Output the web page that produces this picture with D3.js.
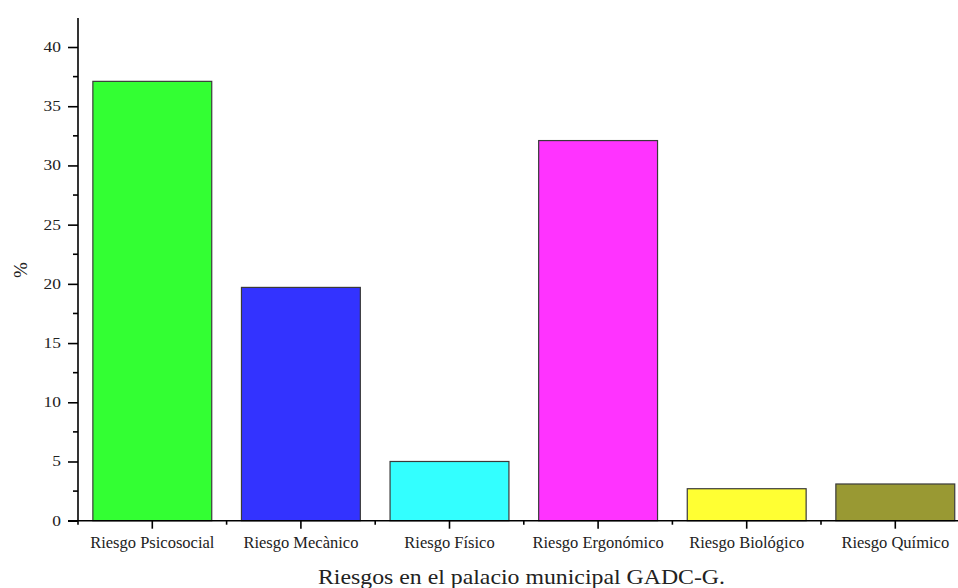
<!DOCTYPE html>
<html>
<head>
<meta charset="utf-8">
<script src="https://cdn.jsdelivr.net/npm/d3@7"></script>
<style>
  body { margin: 0; background: #fff; }
  svg { display: block; font-family: "Liberation Serif", "Times New Roman", serif; }
</style>
</head>
<body>
<div id="chart"></div>
<script>
// Data.
const categories = ["Riesgo Psicosocial", "Riesgo Mecànico", "Riesgo Físico", "Riesgo Ergonómico", "Riesgo Biológico", "Riesgo Químico"];
const values = [37.1, 19.7, 5.0, 32.1, 2.7, 3.1];
const colors = ["#33ff33", "#3333ff", "#33ffff", "#ff33ff", "#ffff33", "#999933"];
const yTicks = [0, 5, 10, 15, 20, 25, 30, 35, 40];

const width = 958;
const height = 588;
const serif = "Liberation Serif, Times New Roman, serif";

// Plot area (the frame runs off the right edge, like in the original).
const plotLeft = 78, plotTop = 18, plotBottom = 520.7;
const band = 148.6;

const x = d3.scaleBand()
    .domain(categories)
    .range([plotLeft, plotLeft + band * categories.length])
    .paddingInner(0.2)
    .paddingOuter(0.1);

const y = d3.scaleLinear()
    .domain([0, 42.45])
    .range([plotBottom, plotTop]);

const svg = d3.select("#chart")
  .append("svg")
    .attr("width", width)
    .attr("height", height);

// Bars.
svg.append("g")
  .selectAll("rect")
  .data(values)
  .join("rect")
    .attr("x", (d, i) => x(categories[i]))
    .attr("y", d => y(d))
    .attr("width", x.bandwidth())
    .attr("height", d => y(0) - y(d))
    .attr("fill", (d, i) => colors[i])
    .attr("stroke", "#3a3a3a")
    .attr("stroke-width", 1.2);

// Y axis: major ticks every 5, minor ticks in between.
const yAxis = svg.append("g")
    .attr("transform", `translate(${plotLeft},0)`)
    .call(d3.axisLeft(y).tickValues(yTicks).tickSize(10).tickPadding(7).tickFormat(d3.format("d")));
yAxis.select(".domain").attr("d", `M0,${y(0)}V${plotTop}`).attr("stroke-width", 1.6);
yAxis.selectAll(".tick line").attr("stroke-width", 1.6);
yAxis.selectAll(".tick text")
    .attr("font-size", 14)
    .attr("font-family", serif)
    .attr("fill", "#222")
    // the original digits are a little wide for their height
    .attr("textLength", d => String(d).length * 8.7)
    .attr("lengthAdjust", "spacingAndGlyphs");

yAxis.selectAll(".minor")
  .data(d3.range(2.5, 42.5, 5))
  .join("line")
    .attr("class", "minor")
    .attr("x1", -5)
    .attr("x2", 0)
    .attr("y1", d => y(d))
    .attr("y2", d => y(d))
    .attr("stroke", "#000")
    .attr("stroke-width", 1.6);

// X axis: major ticks on the category centres, minor ones on the boundaries.
const xAxis = svg.append("g")
    .attr("transform", `translate(0,${plotBottom})`)
    .call(d3.axisBottom(x).tickSize(8).tickPadding(7.5));
xAxis.select(".domain").attr("d", `M${plotLeft - 10},0H${width}`).attr("stroke-width", 1.6);
xAxis.selectAll(".tick line").attr("stroke-width", 1.6);
xAxis.selectAll(".tick text")
    .attr("font-size", 16.5)
    .attr("font-family", serif)
    .attr("fill", "#222");

xAxis.selectAll(".minor")
  .data(d3.range(0, categories.length + 1))
  .join("line")
    .attr("class", "minor")
    .attr("x1", i => plotLeft + band * i)
    .attr("x2", i => plotLeft + band * i)
    .attr("y1", 0)
    .attr("y2", 4)
    .attr("stroke", "#000")
    .attr("stroke-width", 1.6);

// Axis titles.
svg.append("text")
    .attr("transform", `translate(27,270) rotate(-90)`)
    .attr("text-anchor", "middle")
    .attr("font-family", serif)
    .attr("font-size", 19)
    .attr("fill", "#222")
    .text("%");

svg.append("text")
    .attr("x", 521.5)
    .attr("y", 584)
    .attr("text-anchor", "middle")
    .attr("font-family", serif)
    .attr("font-size", 21)
    .attr("fill", "#222")
    .attr("textLength", 407)
    .attr("lengthAdjust", "spacingAndGlyphs")
    .text("Riesgos en el palacio municipal GADC-G.");
</script>
</body>
</html>
